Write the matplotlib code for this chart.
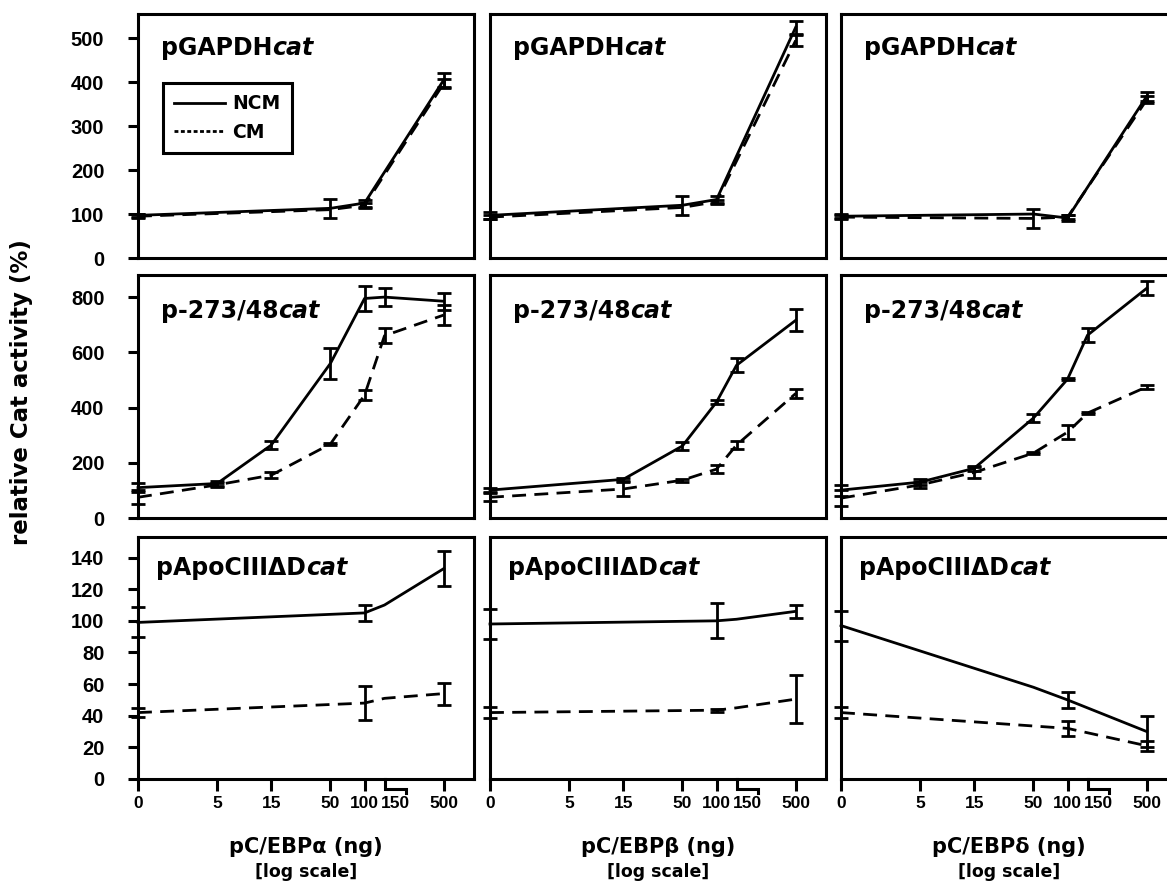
import numpy as np
import matplotlib.pyplot as plt
import matplotlib.transforms as mtransforms
from matplotlib.lines import Line2D

plt.rcParams['font.family'] = ['DejaVu Sans']
plt.rcParams['font.weight'] = 'bold'
TICK_FONT = ['Liberation Sans', 'DejaVu Sans']

# ---- data (relative Cat activity, %) ----
x_ticks = [0, 5, 15, 50, 100, 500]
x_ticklabels = ['0', '5', '15', '50', '100', '500']
break_lo, break_hi = 150, 230   # broken tick drawn for 150

constructs = ['pGAPDH', 'p-273/48', 'pApoCIII\u0394D']
vectors = ['pC/EBP\u03b1 (ng)', 'pC/EBP\u03b2 (ng)', 'pC/EBP\u03b4 (ng)']

# row 1: pGAPDHcat
gapdh_a_x = [0, 50, 100, 500]
gapdh_a_ncm = [97, 113, 125, 405]
gapdh_a_ncm_err = [4, 22, 8, 15]
gapdh_a_cm = [95, 110, 120, 397]
gapdh_a_cm_err = [4, 0, 6, 10]

gapdh_b_x = [0, 50, 100, 500]
gapdh_b_ncm = [97, 120, 133, 525]
gapdh_b_ncm_err = [8, 22, 7, 15]
gapdh_b_cm = [93, 115, 128, 495]
gapdh_b_cm_err = [5, 0, 5, 12]

gapdh_d_x = [0, 50, 100, 500]
gapdh_d_ncm = [95, 100, 91, 368]
gapdh_d_ncm_err = [5, 0, 6, 10]
gapdh_d_cm = [93, 90, 93, 360]
gapdh_d_cm_err = [4, 22, 5, 8]

# row 2: p-273/48cat
p273_a_x = [0, 5, 15, 50, 100, 150, 500]
p273_a_ncm = [110, 125, 264, 560, 795, 800, 785]
p273_a_ncm_err = [15, 10, 15, 55, 45, 33, 30]
p273_a_cm = [75, 120, 155, 268, 445, 660, 735]
p273_a_cm_err = [25, 8, 10, 5, 18, 27, 35]

p273_b_x = [0, 15, 50, 100, 150, 500]
p273_b_ncm = [101, 140, 261, 420, 553, 716]
p273_b_ncm_err = [8, 6, 15, 8, 25, 40]
p273_b_cm = [75, 105, 137, 177, 264, 451]
p273_b_cm_err = [15, 25, 5, 15, 15, 15]

p273_d_x = [0, 5, 15, 50, 100, 150, 500]
p273_d_ncm = [101, 130, 180, 362, 503, 662, 832]
p273_d_ncm_err = [20, 10, 10, 15, 3, 25, 25]
p273_d_cm = [72, 120, 165, 235, 311, 380, 475]
p273_d_cm_err = [30, 10, 20, 5, 25, 5, 8]

# row 3: pApoCIIIdeltaDcat
apo_a_ncm_x = [0, 100, 150, 500]
apo_a_ncm = [99, 105, 110, 133]
apo_a_ncm_err = [9.5, 5, 0, 11]
apo_a_cm_x = [0, 100, 150, 500]
apo_a_cm = [42, 48, 51, 54]
apo_a_cm_err = [3, 11, 0, 7]

apo_b_ncm_x = [0, 100, 150, 500]
apo_b_ncm = [98, 100, 101, 106]
apo_b_ncm_err = [9.5, 11, 0, 4]
apo_b_cm_x = [0, 100, 150, 500]
apo_b_cm = [42, 43.5, 45, 50.5]
apo_b_cm_err = [3.5, 1, 0, 15]

apo_d_ncm_x = [0, 50, 100, 500]
apo_d_ncm = [97, 58, 50, 30]
apo_d_ncm_err = [9.5, 0, 5, 10]
apo_d_cm_x = [0, 100, 500]
apo_d_cm = [42, 32, 21]
apo_d_cm_err = [3.5, 4.5, 3]

panels = [
    [(gapdh_a_x, gapdh_a_ncm, gapdh_a_ncm_err, gapdh_a_x, gapdh_a_cm, gapdh_a_cm_err),
     (gapdh_b_x, gapdh_b_ncm, gapdh_b_ncm_err, gapdh_b_x, gapdh_b_cm, gapdh_b_cm_err),
     (gapdh_d_x, gapdh_d_ncm, gapdh_d_ncm_err, gapdh_d_x, gapdh_d_cm, gapdh_d_cm_err)],
    [(p273_a_x, p273_a_ncm, p273_a_ncm_err, p273_a_x, p273_a_cm, p273_a_cm_err),
     (p273_b_x, p273_b_ncm, p273_b_ncm_err, p273_b_x, p273_b_cm, p273_b_cm_err),
     (p273_d_x, p273_d_ncm, p273_d_ncm_err, p273_d_x, p273_d_cm, p273_d_cm_err)],
    [(apo_a_ncm_x, apo_a_ncm, apo_a_ncm_err, apo_a_cm_x, apo_a_cm, apo_a_cm_err),
     (apo_b_ncm_x, apo_b_ncm, apo_b_ncm_err, apo_b_cm_x, apo_b_cm, apo_b_cm_err),
     (apo_d_ncm_x, apo_d_ncm, apo_d_ncm_err, apo_d_cm_x, apo_d_cm, apo_d_cm_err)],
]

y_limits = [555, 880, 153]
y_ticks = [range(0, 501, 100), range(0, 801, 200), range(0, 141, 20)]

# ---- layout (pixels of the 1167x884 figure) ----
W, H = 1167, 884
col_left = [138, 490, 841]
panel_w = 336
row_top = [14, 275, 537]
row_bot = [258, 518, 779]
title_x = [0.068, 0.068, 0.055]
title_y = [0.832, 0.823, 0.843]

LW = 2.0
SPINE_LW = 2.2
dashed = (0, (5, 3))

fig = plt.figure(figsize=(W / 100, H / 100), dpi=100)


def fwd(x):
    return np.log10(np.maximum(x, 1))


def inv(y):
    return 10 ** y


def draw_series(ax, x, y, err, ls):
    x = np.asarray(x, float)
    y = np.asarray(y, float)
    err = np.asarray(err, float)
    ax.plot(x, y, color='k', lw=LW, ls=ls, clip_on=False, zorder=3)
    m = err > 0
    ax.errorbar(x[m], y[m], yerr=err[m], fmt='none', ecolor='k',
                elinewidth=LW, capsize=5, capthick=LW, clip_on=False, zorder=4)


for r in range(3):
    for c in range(3):
        l = col_left[c] / W
        b = 1 - row_bot[r] / H
        h = (row_bot[r] - row_top[r]) / H
        ax = fig.add_axes([l, b, panel_w / W, h])
        ax.set_xscale('function', functions=(fwd, inv))
        ax.set_xlim(0, 925)
        ax.set_ylim(0, y_limits[r])

        nx, ny, ne, cx, cy, ce = panels[r][c]
        draw_series(ax, nx, ny, ne, '-')
        draw_series(ax, cx, cy, ce, dashed)

        for s in ax.spines.values():
            s.set_linewidth(SPINE_LW)

        ax.set_yticks(list(y_ticks[r]))
        if c == 0:
            ax.set_yticklabels([str(v) for v in y_ticks[r]], fontfamily=TICK_FONT,
                               fontsize=14.5, fontweight='bold')
            ax.tick_params(axis='y', direction='out', length=7.2, width=SPINE_LW,
                           pad=17)
        else:
            ax.tick_params(axis='y', left=False, labelleft=False)

        ax.set_xticks(x_ticks)
        ax.minorticks_off()
        if r == 2:
            ax.set_xticklabels(x_ticklabels, fontfamily=TICK_FONT, fontsize=12.5,
                               fontweight='bold')
            ax.tick_params(axis='x', direction='out', length=8.6, width=SPINE_LW,
                           pad=3.6)
            # broken tick for 150
            trans = mtransforms.blended_transform_factory(ax.transData, ax.transAxes)
            ax.plot([break_lo, break_lo, break_hi, break_hi], [0, -0.041, -0.041, -0.058],
                    transform=trans, color='k', lw=SPINE_LW, clip_on=False,
                    solid_joinstyle='miter')
            ax.annotate('150', xy=(np.sqrt(break_lo * break_hi), 0), xycoords=trans,
                        xytext=(0, -12.2), textcoords='offset points',
                        ha='center', va='top', fontsize=12.5, fontweight='bold',
                        fontfamily=TICK_FONT)
            ax.text(0.5, -0.28, vectors[c], transform=ax.transAxes, ha='center',
                    va='center', fontsize=15, fontweight='bold')
            ax.text(0.5, -0.385, '[log scale]', transform=ax.transAxes, ha='center',
                    va='center', fontsize=12.5, fontweight='bold')
        else:
            ax.tick_params(axis='x', bottom=False, labelbottom=False)

        t = ax.text(title_x[r], title_y[r], constructs[r], transform=ax.transAxes,
                    fontsize=17, fontweight='bold', va='baseline', ha='left')
        ax.annotate('cat', xy=(1, 0), xycoords=t, va='bottom', ha='left',
                    fontsize=17, fontweight='bold', fontstyle='italic')

        if r == 0 and c == 0:
            handles = [Line2D([], [], color='k', lw=LW, ls='-'),
                       Line2D([], [], color='k', lw=LW, ls=(0, (1.4, 0.9)))]
            leg = ax.legend(handles, ['NCM', 'CM'], loc='upper left',
                            bbox_to_anchor=(0.074, 0.717), frameon=True,
                            fancybox=False, edgecolor='k', framealpha=1,
                            prop=dict(weight='bold', size=13.5), handlelength=2.7,
                            handletextpad=0.4, borderpad=0.6, labelspacing=0.5,
                            borderaxespad=0)
            leg.get_frame().set_linewidth(SPINE_LW)

fig.text(0.018, 0.557, 'relative Cat activity (%)', rotation=90, ha='center',
         va='center', fontsize=16.5, fontweight='bold')

fig.savefig('out.png', dpi=100)
